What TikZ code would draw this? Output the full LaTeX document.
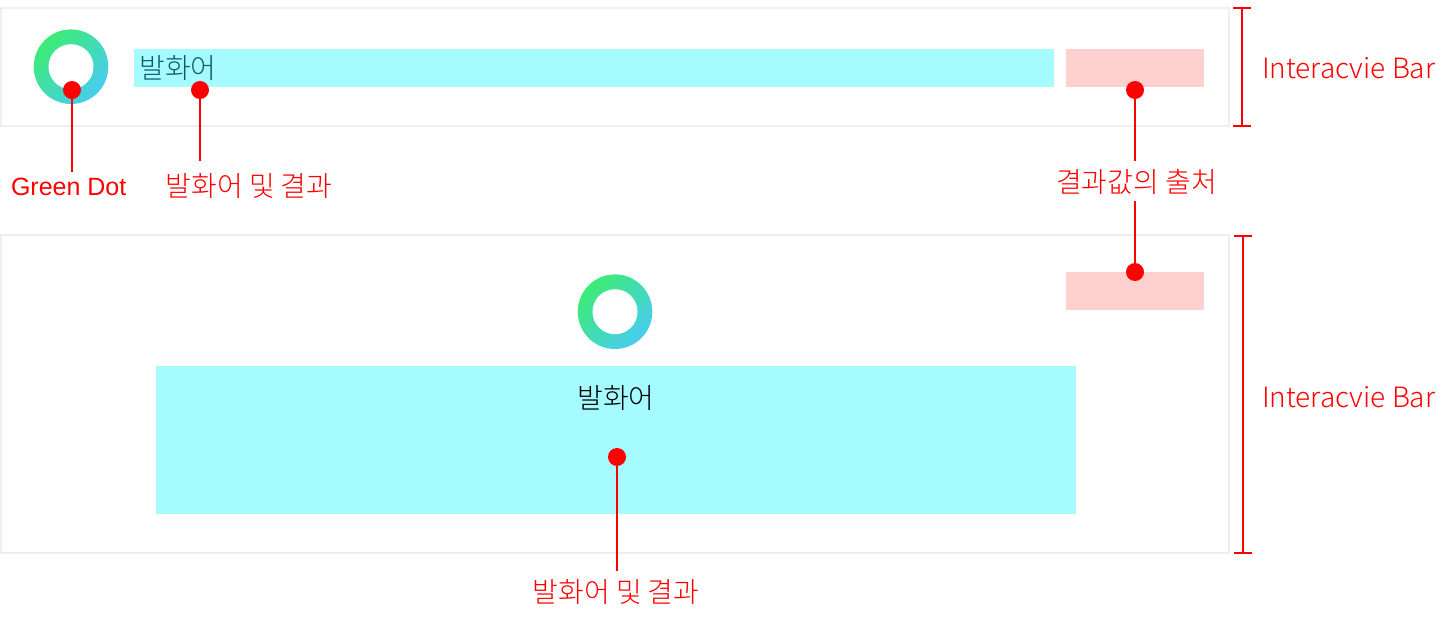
\documentclass[tikz,border=0pt]{standalone}
\usepackage{fontspec}
\setmainfont{Noto Sans CJK KR Light}
\newfontfamily\latinfont{Liberation Sans}
\usetikzlibrary{arrows.meta,positioning}
\definecolor{framegray}{HTML}{EFEFEF}
\definecolor{barcyan}{HTML}{A5FBFF}
\definecolor{barpink}{HTML}{FFD0D0}
\definecolor{ringgreen}{HTML}{3CEC74}
\definecolor{ringblue}{HTML}{48CCF0}
\definecolor{marksred}{HTML}{FF0000}
\definecolor{uttertext}{HTML}{0E5C68}
\tikzset{
  frame/.style={draw=framegray,line width=2pt,minimum width=1228pt,inner sep=0pt,outer sep=0pt},
  bar/.style={fill=#1,inner sep=0pt,outer sep=0pt},
  ring/.style={circle,minimum size=74.6pt,inner sep=0pt,left color=ringgreen,right color=ringblue,shading angle=45},
  ringhole/.style={circle,fill=white,minimum size=45pt,inner sep=0pt},
  pin/.style={circle,fill=marksred,minimum size=18pt,inner sep=0pt,outer sep=0pt},
  lead/.style={draw=marksred,line width=2pt},
  span/.style={draw=marksred,line width=2pt,{Bar[width=18pt,line width=2pt]}-{Bar[width=18pt,line width=2pt]}},
  tag/.style={text=marksred,font=\fontsize{28}{32}\selectfont,inner sep=0pt},
}
\begin{document}
\begin{tikzpicture}[x=1pt,y=-1pt]
  \useasboundingbox (0,0) rectangle (1446,622);
  % frames
  \node[frame,minimum height=118pt] (frame_top) at (615,67) {};
  \node[frame,minimum height=317.5pt] (frame_bottom) at (615,394.2) {};
  % bars
  \node[bar=barcyan,minimum width=920pt,minimum height=38pt] (bar_top) at (594,68) {};
  \node[bar=barpink,minimum width=138pt,minimum height=38pt] (source_top) at (1135,68) {};
  \node[bar=barpink,minimum width=138pt,minimum height=38pt] (source_bottom) at (1135,291) {};
  \node[bar=barcyan,minimum width=920pt,minimum height=148pt] (bar_bottom) at (616,440) {};
  % rings
  \node[ring] (ring_top) at (71,66.7) {};
  \node[ringhole] at (ring_top) {};
  \node[ring] (ring_bottom) at (615,311.7) {};
  \node[ringhole] at (ring_bottom) {};
  % utterance text
  \node[font=\fontsize{28}{32}\selectfont,text=uttertext,inner sep=0pt] (utter_top) at (178,67.7) {발화어};
  \node[font=\fontsize{28}{32}\selectfont,inner sep=0pt] (utter_bottom) at (616,397.7) {발화어};
  % pins
  \node[pin] (pin_dot) at (72,90) {};
  \node[pin] (pin_utter) at (200,90) {};
  \node[pin] (pin_source) at (1135,90) {};
  \node[pin] (pin_lower) at (1135,272) {};
  \node[pin] (pin_result) at (617,457) {};
  % labels
  \node[tag,font=\latinfont\fontsize{25}{29}\selectfont] (tag_dot) at (68.7,187) {Green Dot};
  \node[tag] (tag_utter) at (249,186.5) {발화어 및 결과};
  \node[tag] (tag_source) at (1136.5,181.5) {결과값의 출처};
  \node[tag] (tag_result) at (616,592.5) {발화어 및 결과};
  \node[tag,anchor=west] (tag_top) at (1262,68) {Interacvie Bar};
  \node[tag,anchor=west] (tag_bottom) at (1262,397) {Interacvie Bar};
  % free ends
  \coordinate (end_dot) at (72,172);
  \coordinate (end_utter) at (200,161);
  \coordinate (end_source) at (1135,161);
  \coordinate (end_lower) at (1135,201);
  \coordinate (end_result) at (617,571);
  \coordinate (span_a) at (1242,7);
  \coordinate (span_b) at (1242,127);
  \coordinate (span_c) at (1243,235);
  \coordinate (span_d) at (1243,554);
  % connectors
  \path[lead] (pin_dot) -- (end_dot);
  \path[lead] (pin_utter) -- (end_utter);
  \path[lead] (pin_source) -- (end_source);
  \path[lead] (pin_lower) -- (end_lower);
  \path[lead] (pin_result) -- (end_result);
  \draw[span] (span_a) -- (span_b);
  \draw[span] (span_c) -- (span_d);
\end{tikzpicture}
\end{document}
